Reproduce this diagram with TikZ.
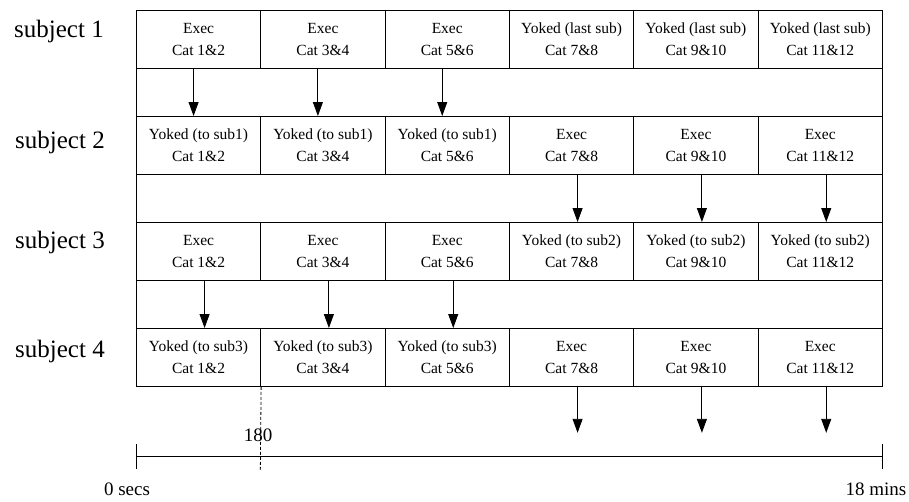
\documentclass[tikz,border=0pt]{standalone}
\usepackage{fontspec}
\setmainfont{Liberation Serif}
\usetikzlibrary{arrows.meta}
\begin{document}
\begin{tikzpicture}[x=1pt,y=-1pt,
  cell/.style={draw, line width=0.8pt, minimum width=124.33pt, minimum height=58pt,
    inner sep=0pt, anchor=north west, align=center,
    font=\fontsize{15.5}{22}\selectfont},
  flow/.style={-{Triangle[width=10pt,length=14pt]}, line width=0.9pt},
  subj/.style={anchor=base west, inner sep=0pt, font=\fontsize{25}{30}\selectfont},
  axislabel/.style={inner sep=0pt, font=\fontsize{19}{22}\selectfont},
  axisline/.style={line width=0.9pt}]
\useasboundingbox (0,0) rectangle (909,501);
% row 1
\node[cell] (c11) at (136,10)    {Exec\\Cat 1\&2};
\node[cell] (c12) at (260.33,10) {Exec\\Cat 3\&4};
\node[cell] (c13) at (384.67,10) {Exec\\Cat 5\&6};
\node[cell] (c14) at (509,10)    {Yoked (last sub)\\Cat 7\&8};
\node[cell] (c15) at (633.33,10) {Yoked (last sub)\\Cat 9\&10};
\node[cell] (c16) at (757.67,10) {Yoked (last sub)\\Cat 11\&12};
% row 2
\node[cell] (c21) at (136,116)    {Yoked (to sub1)\\Cat 1\&2};
\node[cell] (c22) at (260.33,116) {Yoked (to sub1)\\Cat 3\&4};
\node[cell] (c23) at (384.67,116) {Yoked (to sub1)\\Cat 5\&6};
\node[cell] (c24) at (509,116)    {Exec\\Cat 7\&8};
\node[cell] (c25) at (633.33,116) {Exec\\Cat 9\&10};
\node[cell] (c26) at (757.67,116) {Exec\\Cat 11\&12};
% row 3
\node[cell] (c31) at (136,222)    {Exec\\Cat 1\&2};
\node[cell] (c32) at (260.33,222) {Exec\\Cat 3\&4};
\node[cell] (c33) at (384.67,222) {Exec\\Cat 5\&6};
\node[cell] (c34) at (509,222)    {Yoked (to sub2)\\Cat 7\&8};
\node[cell] (c35) at (633.33,222) {Yoked (to sub2)\\Cat 9\&10};
\node[cell] (c36) at (757.67,222) {Yoked (to sub2)\\Cat 11\&12};
% row 4
\node[cell] (c41) at (136,328)    {Yoked (to sub3)\\Cat 1\&2};
\node[cell] (c42) at (260.33,328) {Yoked (to sub3)\\Cat 3\&4};
\node[cell] (c43) at (384.67,328) {Yoked (to sub3)\\Cat 5\&6};
\node[cell] (c44) at (509,328)    {Exec\\Cat 7\&8};
\node[cell] (c45) at (633.33,328) {Exec\\Cat 9\&10};
\node[cell] (c46) at (757.67,328) {Exec\\Cat 11\&12};
% outer frame
\draw[line width=0.8pt] (c11.north west) rectangle (c46.south east);
% subject labels
\node[subj] (s1) at (14,37.5) {subject 1};
\node[subj] (s2) at (15,148) {subject 2};
\node[subj] (s3) at (15,248) {subject 3};
\node[subj] (s4) at (15,357) {subject 4};
% arrows 1 -> 2
\foreach \c in {1,2,3}
  \draw[flow] ([xshift=-5pt]c1\c.south) -- ([xshift=-5pt]c2\c.north);
% arrows 2 -> 3
\foreach \c in {4,5,6}
  \draw[flow] ([xshift=6pt]c2\c.south) -- ([xshift=6pt]c3\c.north);
% arrows 3 -> 4
\foreach \c in {1,2,3}
  \draw[flow] ([xshift=6pt]c3\c.south) -- ([xshift=6pt]c4\c.north);
% arrows out of row 4
\foreach \c in {4,5,6}{
  \path ([xshift=6pt]c4\c.south) ++(0,46) coordinate (o\c);
  \draw[flow] ([xshift=6pt]c4\c.south) -- (o\c);
}
% timeline
\coordinate (t0) at (136,456);
\coordinate (t1) at (882,456);
\coordinate (m0) at (260.33,470);
\draw[axisline] (t0) -- (t1);
\draw[axisline] (136,444) -- (136,469);
\draw[axisline] (882,444) -- (882,469);
\draw[line width=0.8pt, dash pattern=on 3pt off 2pt] (c41.south east) -- (m0);
\node[axislabel] (l180) at (258,435) {180};
\node[axislabel] (l0) at (127,489) {0 secs};
\node[axislabel] (l18) at (876,489) {18 mins};
\end{tikzpicture}
\end{document}
